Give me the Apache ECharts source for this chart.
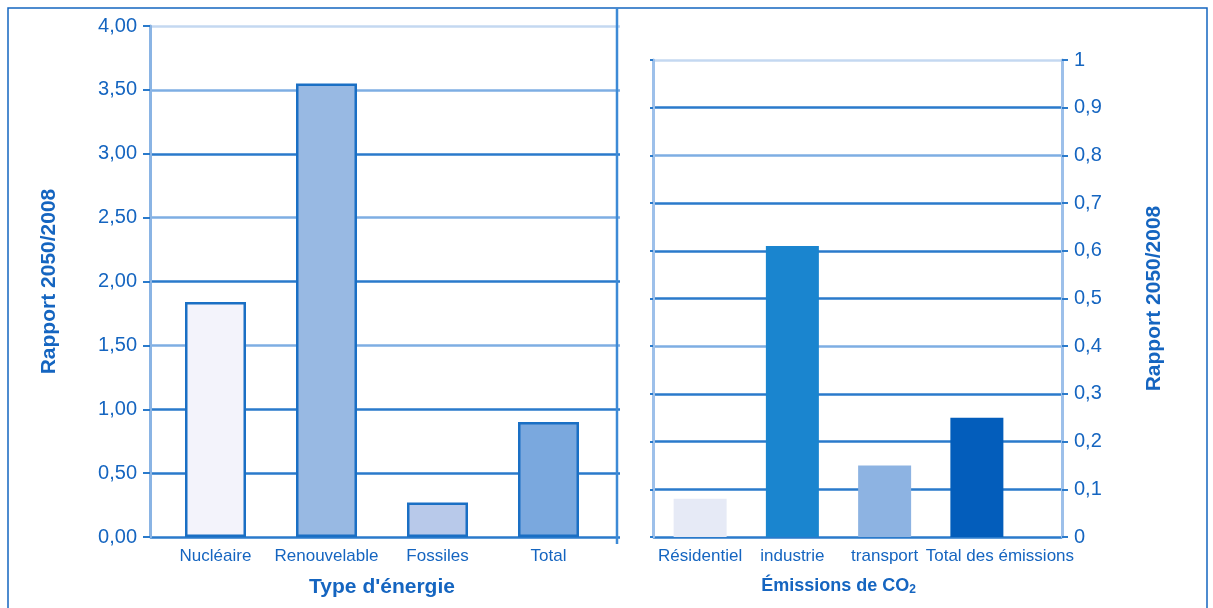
<!DOCTYPE html>
<html>
<head>
<meta charset="utf-8">
<script src="https://cdn.jsdelivr.net/npm/echarts@6/dist/echarts.min.js"></script>
<style>
  html, body { margin: 0; padding: 0; background: #fff; }
  #chart { width: 1213px; height: 608px; }
</style>
</head>
<body>
<div id="chart"></div>
<script>
// données
const energyCats = ['Nucléaire', 'Renouvelable', 'Fossiles', 'Total']
const energyVals = [1.84, 3.55, 0.27, 0.90]
const co2Cats = ['Résidentiel', 'industrie', 'transport', 'Total des émissions']
const co2Vals = [0.08, 0.61, 0.15, 0.25]

// couleurs
const blue = '#1565c0'
const dark = '#2a7acb'
const mid = '#7eaee3'
const light = '#c4d8f1'
const energyColors = ['#f3f3fb', '#98b9e3', '#b8c9ea', '#7aa8de']
const co2Colors = ['#e6eaf6', '#1a85cf', '#8db3e2', '#035dbb']

const regular = "'Liberation Sans', Arial, sans-serif"

var myChart = echarts.init(document.getElementById('chart'))

const option = {
  animation: false,
  textStyle: { fontFamily: regular },
  grid: [
    { left: 150, top: 26, width: 470, height: 511 },
    { left: 160, top: 26, width: 444, height: 511 },
    { left: 653, top: 60, width: 409, height: 477 },
    { left: 654, top: 60, width: 369, height: 477 }
  ],
  xAxis: [
    { gridIndex: 0, type: 'category', data: energyCats, show: false },
    {
      gridIndex: 1,
      type: 'category',
      data: energyCats,
      axisLine: { show: false },
      axisTick: { show: false },
      axisLabel: { interval: 0, margin: 11, color: blue, fontSize: 17 },
      name: "Type d'énergie",
      nameLocation: 'middle',
      nameGap: 40,
      nameTextStyle: { color: blue, fontSize: 21, fontWeight: 'bold' }
    },
    { gridIndex: 2, type: 'category', data: co2Cats, show: false },
    {
      gridIndex: 3,
      type: 'category',
      data: co2Cats,
      axisLine: { show: false },
      axisTick: { show: false },
      axisLabel: {
        interval: 0,
        margin: 11,
        color: blue,
        fontSize: 17,
        // le dernier libellé est décalé vers la droite dans l'original
        formatter: (v, i) => i === 3 ? '{s|' + v + '}' : v,
        rich: { s: { color: blue, fontSize: 17, padding: [0, 0, 0, 46] } }
      },
      name: '{a|Émissions de CO}{b|2}',
      nameLocation: 'middle',
      nameGap: 40,
      nameTextStyle: {
        rich: {
          a: { color: blue, fontSize: 18, fontWeight: 'bold' },
          b: { color: blue, fontSize: 12, fontWeight: 'bold', padding: [7, 0, 0, 0] }
        }
      }
    }
  ],
  yAxis: [
    {
      gridIndex: 0,
      type: 'value',
      min: 0,
      max: 4,
      interval: 0.5,
      axisLine: { show: true, lineStyle: { color: '#8ab4e4', width: 3 } },
      axisTick: { show: true, length: 7, lineStyle: { color: dark, width: 2 } },
      axisLabel: {
        margin: 13,
        color: blue,
        fontSize: 20,
        formatter: v => v.toFixed(2).replace('.', ',')
      },
      splitLine: {
        show: true,
        lineStyle: { width: 2.5, color: [dark, dark, dark, mid, dark, mid, dark, mid, light] }
      },
      name: 'Rapport 2050/2008',
      nameLocation: 'middle',
      nameRotate: 90,
      nameGap: 90,
      nameTextStyle: { color: blue, fontSize: 21, fontWeight: 'bold' }
    },
    { gridIndex: 1, type: 'value', min: 0, max: 4, show: false, splitLine: { show: false } },
    {
      gridIndex: 2,
      type: 'value',
      position: 'left',
      min: 0,
      max: 1,
      interval: 0.1,
      axisLine: { show: true, lineStyle: { color: '#9dc0ea', width: 3 } },
      axisTick: { show: true, length: 3, lineStyle: { color: dark, width: 2 } },
      axisLabel: { show: false },
      splitLine: {
        show: true,
        lineStyle: { width: 2.5, color: [dark, dark, dark, dark, mid, dark, dark, dark, mid, dark, light] }
      }
    },
    {
      gridIndex: 2,
      type: 'value',
      position: 'right',
      min: 0,
      max: 1,
      interval: 0.1,
      axisLine: { show: true, lineStyle: { color: '#9dc0ea', width: 3 } },
      axisTick: { show: true, length: 6, lineStyle: { color: dark, width: 2 } },
      axisLabel: {
        margin: 12,
        color: blue,
        fontSize: 20,
        formatter: v => String(+v.toFixed(1)).replace('.', ',')
      },
      splitLine: { show: false },
      name: 'Rapport 2050/2008',
      nameLocation: 'middle',
      nameRotate: 90,
      nameGap: 82,
      nameTextStyle: { color: blue, fontSize: 21, fontWeight: 'bold' }
    },
    { gridIndex: 3, type: 'value', min: 0, max: 1, show: false, splitLine: { show: false } }
  ],
  graphic: [
    {
      type: 'rect',
      shape: { x: 8, y: 8, width: 1199, height: 640 },
      style: { fill: 'none', stroke: blue, lineWidth: 1.5 },
      silent: true
    },
    {
      type: 'line',
      shape: { x1: 617, y1: 8, x2: 617, y2: 544 },
      style: { stroke: '#3d8ad6', lineWidth: 2.5 },
      silent: true,
      z: 10
    }
  ],
  series: [
    {
      type: 'bar',
      xAxisIndex: 1,
      yAxisIndex: 1,
      barWidth: 61,
      data: energyVals.map((v, i) => ({
        value: v,
        itemStyle: { color: energyColors[i], borderColor: '#1a6fc4', borderWidth: 2.5 }
      })),
      z: 5
    },
    {
      type: 'bar',
      xAxisIndex: 3,
      yAxisIndex: 4,
      barWidth: 53,
      data: co2Vals.map((v, i) => ({
        value: v,
        itemStyle: { color: co2Colors[i] }
      })),
      z: 5
    }
  ]
}

myChart.setOption(option)
</script>
</body>
</html>
